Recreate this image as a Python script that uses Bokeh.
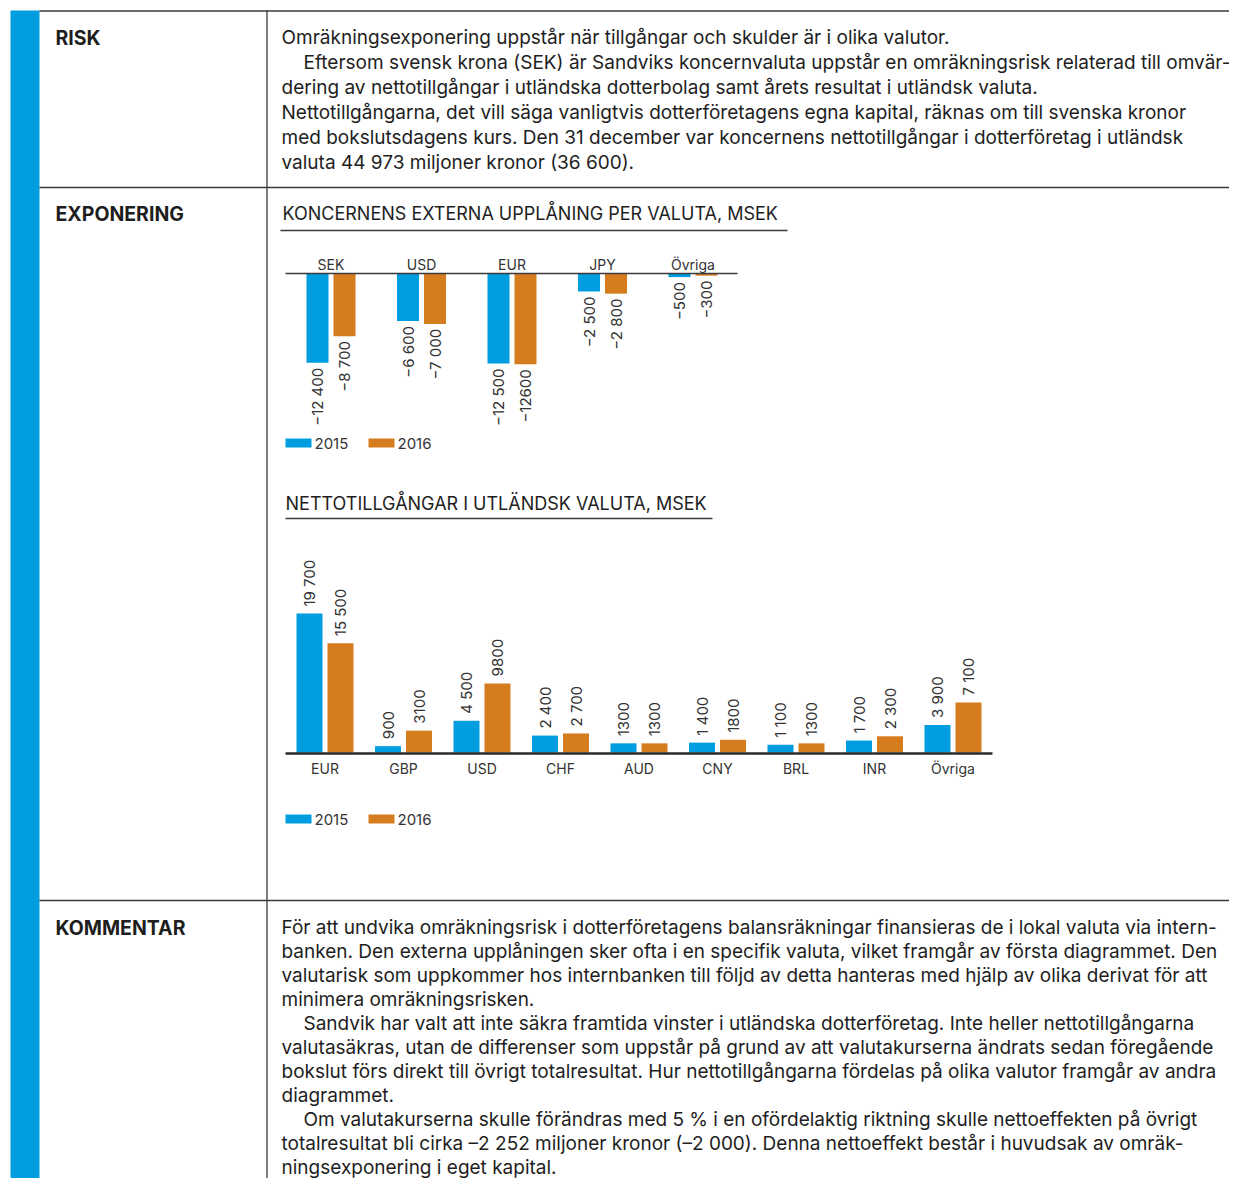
import math
from bokeh.plotting import figure
from bokeh.models import Range1d
from bokeh.transform import dodge
from bokeh.core.properties import value
from bokeh.embed import file_html
from bokeh.resources import INLINE

# ---------------- data ----------------
years = ["2015", "2016"]

borrow_currencies = ["SEK", "USD", "EUR", "JPY", "Övriga"]
borrow_2015 = [-12400, -6600, -12500, -2500, -500]
borrow_2016 = [-8700, -7000, -12600, -2800, -300]
borrow_labels_2015 = ["−12 400", "−6 600", "−12 500", "−2 500", "−500"]
borrow_labels_2016 = ["−8 700", "−7 000", "−12600", "−2 800", "−300"]

net_currencies = ["EUR", "GBP", "USD", "CHF", "AUD", "CNY", "BRL", "INR", "Övriga"]
net_2015 = [19700, 900, 4500, 2400, 1300, 1400, 1100, 1700, 3900]
net_2016 = [15500, 3100, 9800, 2700, 1300, 1800, 1300, 2300, 7100]
net_labels_2015 = ["19 700", "900", "4 500", "2 400", "1300", "1 400", "1 100", "1 700", "3 900"]
net_labels_2016 = ["15 500", "3100", "9800", "2 700", "1300", "1800", "1300", "2 300", "7 100"]

section_titles = ["RISK", "EXPONERING", "KOMMENTAR"]
chart_titles = ["KONCERNENS EXTERNA UPPLÅNING PER VALUTA, MSEK",
                "NETTOTILLGÅNGAR I UTLÄNDSK VALUTA, MSEK"]

risk_lines = [
    "Omräkningsexponering uppstår när tillgångar och skulder är i olika valutor.",
    "Eftersom svensk krona (SEK) är Sandviks koncernvaluta uppstår en omräkningsrisk relaterad till omvär-",
    "dering av nettotillgångar i utländska dotterbolag samt årets resultat i utländsk valuta.",
    "Nettotillgångarna, det vill säga vanligtvis dotterföretagens egna kapital, räknas om till svenska kronor",
    "med bokslutsdagens kurs. Den 31 december var koncernens nettotillgångar i dotterföretag i utländsk",
    "valuta 44 973 miljoner kronor (36 600).",
]
risk_indent = [0, 1, 0, 0, 0, 0]

comment_lines = [
    "För att undvika omräkningsrisk i dotterföretagens balansräkningar finansieras de i lokal valuta via intern-",
    "banken. Den externa upplåningen sker ofta i en specifik valuta, vilket framgår av första diagrammet. Den",
    "valutarisk som uppkommer hos internbanken till följd av detta hanteras med hjälp av olika derivat för att",
    "minimera omräkningsrisken.",
    "Sandvik har valt att inte säkra framtida vinster i utländska dotterföretag. Inte heller nettotillgångarna",
    "valutasäkras, utan de differenser som uppstår på grund av att valutakurserna ändrats sedan föregående",
    "bokslut förs direkt till övrigt totalresultat. Hur nettotillgångarna fördelas på olika valutor framgår av andra",
    "diagrammet.",
    "Om valutakurserna skulle förändras med 5 % i en ofördelaktig riktning skulle nettoeffekten på övrigt",
    "totalresultat bli cirka –2 252 miljoner kronor (–2 000). Denna nettoeffekt består i huvudsak av omräk-",
    "ningsexponering i eget kapital.",
]
comment_indent = [0, 0, 0, 0, 1, 0, 0, 0, 1, 0, 0]

# ---------------- style ----------------
BLUE = "#009ee0"
ORANGE = "#d57c1f"
TXT = "#1e1e1e"
LINE = "#3a3a3a"
FONT = value("Inter")

W, H = 1229, 1178

p = figure(width=W, height=H, x_range=Range1d(0, W), y_range=Range1d(H, 0),
           output_backend="svg", toolbar_location=None, min_border=0,
           x_axis_location=None, y_axis_location=None)
p.grid.visible = False
p.outline_line_color = None
p.background_fill_color = "white"
p.border_fill_color = "white"


def xr(c0, d):
    s = -c0 / d
    return Range1d(s, s + W / d)


def yr(py0, k):
    e = py0 / k
    return Range1d(e - H / k, e)


# ---------------- table frame ----------------
p.quad(left=[10], right=[39], top=[10], bottom=[H], fill_color=BLUE, line_color=None)
p.segment(x0=[39, 39, 39], y0=[10.5, 187, 900], x1=[W] * 3, y1=[10.5, 187, 900],
          line_color=LINE, line_width=1.3)
p.segment(x0=[266.5], y0=[10], x1=[266.5], y1=[H], line_color=LINE, line_width=1.3)

p.text(x=[55] * 3, y=[37, 213, 927], text=section_titles, text_font=FONT,
       text_font_size="19.5px", text_font_style="bold", text_baseline="middle", text_color=TXT)

BODY = "19px"
def body(lines, indent, y0, step=24.9):
    xs = [281 + 22 * i for i in indent]
    ys = [y0 + step * k for k in range(len(lines))]
    p.text(x=xs, y=ys, text=lines, text_font=FONT, text_font_size=BODY,
           text_baseline="middle", text_color=TXT)

body(risk_lines, risk_indent, 37)
body(comment_lines, comment_indent, 927, step=24.0)

# chart titles + underlines
p.text(x=[282, 285], y=[213, 503], text=chart_titles, text_font=FONT, text_font_size="18px",
       text_baseline="middle", text_color=TXT)
p.segment(x0=[280, 285], y0=[230, 518], x1=[787, 712], y1=[230, 518], line_color=LINE, line_width=1.3)

# ---------------- chart 1: borrowing ----------------
p.extra_x_ranges["c1x"] = xr(330.5, 90.5)
p.extra_y_ranges["c1y"] = yr(273, 0.0072)
idx1 = list(range(len(borrow_currencies)))
src1 = dict(x=idx1, a=borrow_2015, b=borrow_2016, la=borrow_labels_2015, lb=borrow_labels_2016,
            cat=borrow_currencies, zero=[0] * len(idx1))
off1 = 13.5 / 90.5
bw1 = 22 / 90.5
p.vbar(x=dodge("x", -off1), top="a", bottom=0, width=bw1, source=src1, fill_color=BLUE,
       line_color=None, x_range_name="c1x", y_range_name="c1y")
p.vbar(x=dodge("x", off1), top="b", bottom=0, width=bw1, source=src1, fill_color=ORANGE,
       line_color=None, x_range_name="c1x", y_range_name="c1y")
p.segment(x0=[285], y0=[273], x1=[737], y1=[273], line_color=LINE, line_width=1.5)
p.text(x="x", y="zero", text="cat", source=src1, x_range_name="c1x", y_range_name="c1y",
       text_align="center", text_baseline="middle", y_offset=-9,
       text_font=FONT, text_font_size="14px", text_color="#333333")
for col, off in (("la", -off1), ("lb", off1)):
    p.text(x=dodge("x", off), y=("a" if col == "la" else "b"), text=col, source=src1,
           x_range_name="c1x", y_range_name="c1y", angle=math.pi / 2,
           text_align="right", text_baseline="middle", y_offset=5,
           text_font=FONT, text_font_size="15px", text_color="#333333")

# legend 1
p.quad(left=[285, 368], right=[311, 394], top=[438, 438], bottom=[447, 447],
       fill_color=[BLUE, ORANGE], line_color=None)
p.text(x=[314, 397], y=[443, 443], text=years, text_font=FONT, text_font_size="15px",
       text_baseline="middle", text_color="#333333")

# ---------------- chart 2: net assets ----------------
p.extra_x_ranges["c2x"] = xr(324.5, 78.5)
p.extra_y_ranges["c2y"] = yr(752, 0.00705)
idx2 = list(range(len(net_currencies)))
src2 = dict(x=idx2, a=net_2015, b=net_2016, la=net_labels_2015, lb=net_labels_2016,
            cat=net_currencies, zero=[0] * len(idx2))
off2 = 15.5 / 78.5
bw2 = 26 / 78.5
p.vbar(x=dodge("x", -off2), top="a", bottom=0, width=bw2, source=src2, fill_color=BLUE,
       line_color=None, x_range_name="c2x", y_range_name="c2y")
p.vbar(x=dodge("x", off2), top="b", bottom=0, width=bw2, source=src2, fill_color=ORANGE,
       line_color=None, x_range_name="c2x", y_range_name="c2y")
p.segment(x0=[285], y0=[753], x1=[992], y1=[753], line_color="#2a2a2a", line_width=2.5)
p.text(x="x", y="zero", text="cat", source=src2, x_range_name="c2x", y_range_name="c2y",
       text_align="center", text_baseline="middle", y_offset=16,
       text_font=FONT, text_font_size="14px", text_color="#333333")
for col, off in (("la", -off2), ("lb", off2)):
    p.text(x=dodge("x", off), y=("a" if col == "la" else "b"), text=col, source=src2,
           x_range_name="c2x", y_range_name="c2y", angle=math.pi / 2,
           text_align="left", text_baseline="middle", y_offset=-7,
           text_font=FONT, text_font_size="15px", text_color="#333333")

# legend 2
p.quad(left=[285, 368], right=[311, 394], top=[814, 814], bottom=[823, 823],
       fill_color=[BLUE, ORANGE], line_color=None)
p.text(x=[314, 397], y=[819, 819], text=years, text_font=FONT, text_font_size="15px",
       text_baseline="middle", text_color="#333333")

open("out.html", "w").write(file_html(p, INLINE))
